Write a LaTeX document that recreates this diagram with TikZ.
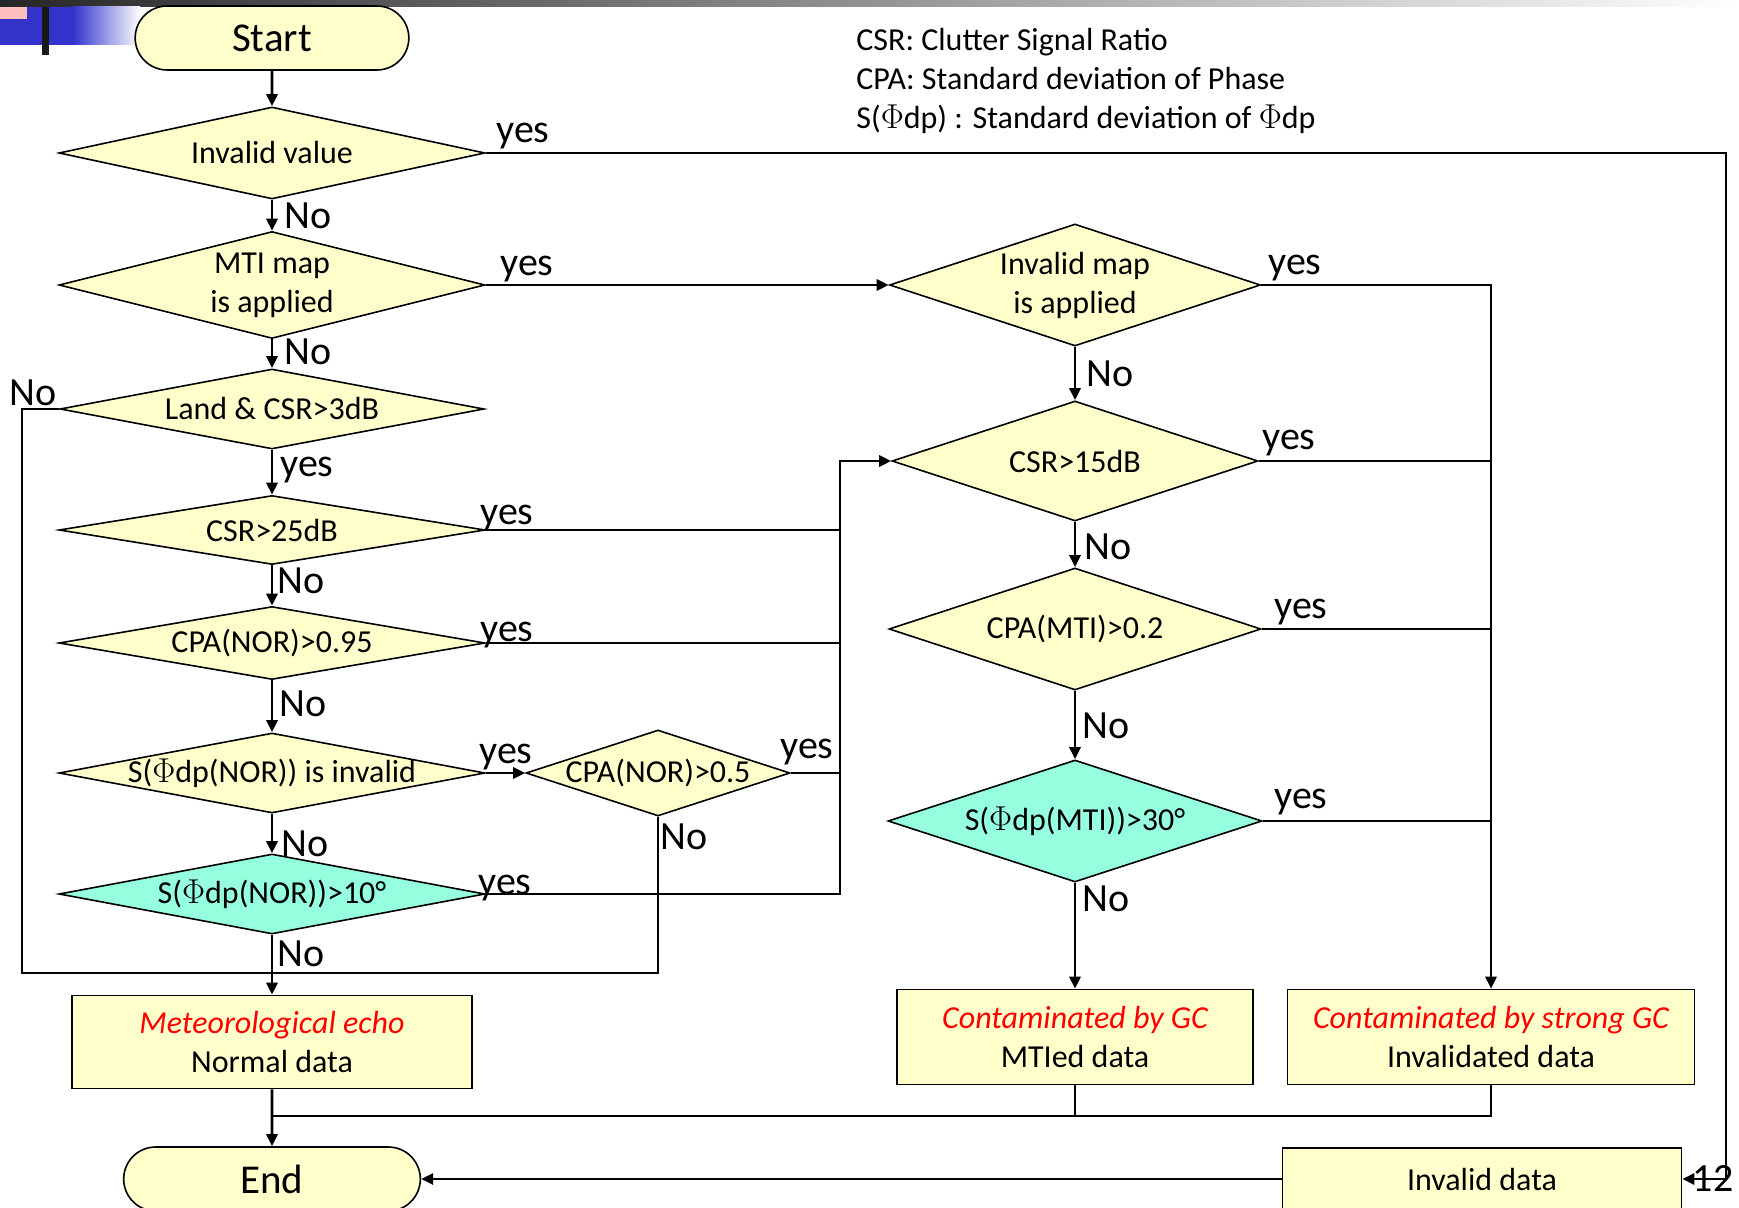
\documentclass[tikz,border=0pt]{standalone}
\usepackage{fontspec}
\setmainfont{Carlito}
\usetikzlibrary{shapes.geometric,shapes.misc,arrows.meta}
\definecolor{pale}{RGB}{255,255,204}
\definecolor{aqua}{RGB}{150,255,222}
\definecolor{bluebar}{RGB}{51,51,204}
\definecolor{pinkbar}{RGB}{255,190,190}

\begin{document}
\begin{tikzpicture}[x=0.5pt,y=-0.5pt,
    decision/.style ={diamond, draw, line width=0.8pt, fill=pale, inner xsep=0pt, inner ysep=-4pt,
                      font=\fontsize{16}{19.5}\selectfont, align=center},
    terminal/.style ={rounded rectangle, draw, line width=0.8pt, fill=pale, font=\fontsize{20.5}{24}\selectfont},
    result/.style   ={rectangle, draw, line width=0.8pt, fill=pale, font=\fontsize{16}{19.5}\selectfont, align=center},
    lbl/.style      ={font=\fontsize{20}{24}\selectfont, inner sep=0pt},
    legend/.style   ={font=\fontsize{16}{19}\selectfont, inner sep=0pt, anchor=west},
    flow/.style     ={line width=1.4pt},
    >={Triangle[length=6pt,width=5.5pt]}]
   \useasboundingbox (0,0) rectangle (1739,1208);
   % slide decoration
   \shade[left color=black!85, right color=white] (0,0) rectangle (1739,7);
   \fill[bluebar] (0,7) rectangle (73,45);
   \shade[left color=bluebar, right color=white] (73,7) rectangle (140,45);
   \fill[pinkbar] (0,7) rectangle (27,19);
   \fill[black!90] (42,7) rectangle (49,55);

   % left column
   \node[terminal, minimum width=143.5pt, minimum height=32pt] (start) at (272,38) {Start};
   \node[decision, aspect=4.6, minimum width=213pt, minimum height=46pt] (inval) at (272,153) {Invalid value};
   \node[decision, aspect=4, minimum width=213pt, minimum height=53.5pt] (mti) at (272,285) {MTI map\\is applied};
   \node[decision, aspect=5.3, minimum width=212pt, minimum height=40pt] (land) at (272,409) {Land \& CSR>3dB};
   \node[decision, aspect=6.2, minimum width=213pt, minimum height=34.5pt] (csr25) at (272,530) {CSR>25dB};
   \node[decision, aspect=5.8, minimum width=213pt, minimum height=36.5pt] (cpa95) at (272,643) {CPA(NOR)>0.95};
   \node[decision, aspect=5.3, minimum width=213pt, minimum height=40pt] (sinv) at (272,773) {S($\Phi$dp(NOR)) is invalid};
   \node[decision, aspect=5.3, minimum width=213pt, minimum height=40pt, fill=aqua] (s10) at (272,894) {S($\Phi$dp(NOR))>10°};
   \node[decision, aspect=3, minimum width=132pt, minimum height=43pt] (cpa5) at (658,773) {CPA(NOR)>0.5};
   \node[result, minimum width=200pt, minimum height=46.5pt] (echo) at (272,1042)
        {\textcolor{red}{\itshape Meteorological echo}\\Normal data};
   \node[terminal, minimum width=155pt, minimum height=32pt] (stop) at (272,1179) {End};

   % right column
   \node[decision, aspect=3, minimum width=185.5pt, minimum height=61pt] (imap) at (1075,285) {Invalid map\\is applied};
   \node[decision, aspect=3, minimum width=183pt, minimum height=60pt] (csr15) at (1075,461) {CSR>15dB};
   \node[decision, aspect=3, minimum width=186pt, minimum height=61pt] (cpamti) at (1075,629) {CPA(MTI)>0.2};
   \node[decision, aspect=3, minimum width=187pt, minimum height=61pt, fill=aqua] (smti) at (1075,821) {S($\Phi$dp(MTI))>30°};
   \node[result, minimum width=178pt, minimum height=47.5pt] (gc) at (1075,1037)
        {\textcolor{red}{\itshape Contaminated by GC}\\MTIed data};
   \node[result, minimum width=203.5pt, minimum height=47.5pt] (sgc) at (1491,1037)
        {\textcolor{red}{\itshape Contaminated by strong GC}\\Invalidated data};
   \node[result, minimum width=199.5pt, minimum height=31pt] (invdata) at (1482,1179) {Invalid data};

   % legend
   \node[legend] (leg1) at (856,42)  {CSR: Clutter Signal Ratio};
   \node[legend] (leg2) at (856,79)  {CPA: Standard deviation of Phase};
   \node[legend] (leg3) at (856,119) {S($\Phi$dp) : Standard deviation of $\Phi$dp};

   \coordinate (rt)  at (1726,153);
   \coordinate (lft) at (22,973);
   \coordinate (jn)  at (840,461);
   \coordinate (bot) at (272,1116);

   % connectors
   \draw[flow,->] (start) -- (inval);
   \draw[flow,->] (inval) -- (mti);
   \draw[flow,->] (mti) -- (land);
   \draw[flow,->] (land) -- (csr25);
   \draw[flow,->] (csr25) -- (cpa95);
   \draw[flow,->] (cpa95) -- (sinv);
   \draw[flow,->] (sinv) -- (s10);
   \draw[flow,->] (sinv) -- (cpa5);
   \draw[flow,->] (s10) -- (echo);
   \draw[flow,->] (echo) -- (stop);
   \draw[flow,->] (inval.east) -- (rt) |- (invdata.east);
   \draw[flow,->] (mti) -- (imap);
   \draw[flow] (land.west) -| (lft) -| (cpa5.south);
   \draw[flow,->] (s10.east) -| (jn) -- (csr15.west);
   \draw[flow] (csr25.east) -- (csr25.east -| jn);
   \draw[flow] (cpa95.east) -- (cpa95.east -| jn);
   \draw[flow] (cpa5.east) -- (cpa5.east -| jn);
   \draw[flow,->] (imap) -- (csr15);
   \draw[flow,->] (csr15) -- (cpamti);
   \draw[flow,->] (cpamti) -- (smti);
   \draw[flow,->] (smti) -- (gc);
   \draw[flow,->] (imap.east) -| (sgc.north);
   \draw[flow] (csr15.east) -- (csr15.east -| sgc.north);
   \draw[flow] (cpamti.east) -- (cpamti.east -| sgc.north);
   \draw[flow] (smti.east) -- (smti.east -| sgc.north);
   \draw[flow] (gc.south) |- (bot);
   \draw[flow] (sgc.south) |- (gc.south |- bot);
   \draw[flow,->] (invdata.west) -- (stop.east);

   % labels
   \node[lbl] (y1)  at (523,136)  {yes};
   \node[lbl] (n1)  at (308,216)  {No};
   \node[lbl] (y2)  at (527,269)  {yes};
   \node[lbl] (n2)  at (308,352)  {No};
   \node[lbl] (n3)  at (33,393)   {No};
   \node[lbl] (y3)  at (307,470)  {yes};
   \node[lbl] (y4)  at (507,518)  {yes};
   \node[lbl] (n4)  at (301,581)  {No};
   \node[lbl] (y5)  at (507,635)  {yes};
   \node[lbl] (n5)  at (303,704)  {No};
   \node[lbl] (y6)  at (506,757)  {yes};
   \node[lbl] (y7)  at (807,752)  {yes};
   \node[lbl] (n7)  at (684,837)  {No};
   \node[lbl] (n6)  at (305,844)  {No};
   \node[lbl] (y8)  at (505,888)  {yes};
   \node[lbl] (n8)  at (301,954)  {No};
   \node[lbl] (y9)  at (1295,268) {yes};
   \node[lbl] (n9)  at (1110,374) {No};
   \node[lbl] (y10) at (1289,443) {yes};
   \node[lbl] (n10) at (1108,547) {No};
   \node[lbl] (y11) at (1301,612) {yes};
   \node[lbl] (n11) at (1106,726) {No};
   \node[lbl] (y12) at (1301,802) {yes};
   \node[lbl] (n12) at (1106,899) {No};
   \node[lbl] (pg)  at (1713,1179) {12};
\end{tikzpicture}
\end{document}
